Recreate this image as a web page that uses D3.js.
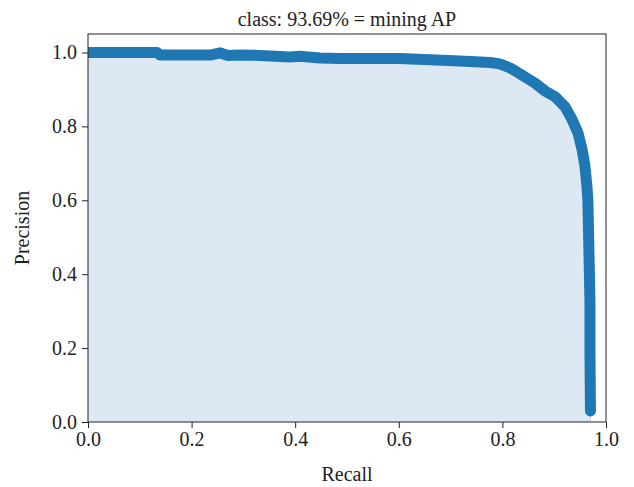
<!DOCTYPE html>
<html>
<head>
<meta charset="utf-8">
<script src="https://cdn.jsdelivr.net/npm/d3@7"></script>
<style>
  html, body { margin: 0; padding: 0; background: #fff; }
  svg text { font-family: "Liberation Serif", "DejaVu Serif", serif; fill: #222; }
</style>
</head>
<body>
<svg id="chart" width="634" height="487"></svg>
<script>
// Precision-recall curve for the "mining" class
const chartTitle = "class: 93.69% = mining AP";
const recall = [0.000, 0.133, 0.139, 0.236, 0.255, 0.270, 0.293, 0.332, 0.390, 0.409, 0.448, 0.486,
  0.602, 0.660, 0.718, 0.776, 0.795, 0.815, 0.834, 0.863, 0.882, 0.902, 0.921, 0.934, 0.946,
  0.954, 0.959, 0.963, 0.965, 0.967, 0.969, 0.969, 0.970];
const precision = [1.000, 1.000, 0.993, 0.993, 0.999, 0.992, 0.993, 0.992, 0.988, 0.990, 0.985, 0.984,
  0.984, 0.980, 0.977, 0.973, 0.969, 0.958, 0.942, 0.917, 0.896, 0.880, 0.853, 0.820, 0.782,
  0.736, 0.696, 0.641, 0.601, 0.465, 0.330, 0.195, 0.030];
const xTicks = [0, 0.2, 0.4, 0.6, 0.8, 1.0];
const yTicks = [0, 0.2, 0.4, 0.6, 0.8, 1.0];

const data = recall.map((r, i) => ({ r, p: precision[i] }));

const svg = d3.select("#chart");
const margin = { left: 88, right: 28, top: 34, bottom: 65 };
const W = 634, H = 487;

const x = d3.scaleLinear().domain([0, 1]).range([margin.left, W - margin.right]);
const y = d3.scaleLinear().domain([0, 1.05]).range([H - margin.bottom, margin.top]);

svg.append("defs").append("clipPath").attr("id", "plotClip")
  .append("rect")
  .attr("x", x(0)).attr("y", y(1.05))
  .attr("width", x(1) - x(0)).attr("height", y(0) - y(1.05));

const plot = svg.append("g").attr("clip-path", "url(#plotClip)");

// shaded area under the curve
plot.append("path")
  .datum(data)
  .attr("fill", "#dce8f4")
  .attr("d", d3.area().x(d => x(d.r)).y0(y(0)).y1(d => y(d.p)));

// faint drop to zero at the end of the curve
const last = data[data.length - 1];
plot.append("line")
  .attr("x1", x(last.r)).attr("x2", x(last.r))
  .attr("y1", y(last.p)).attr("y2", y(0))
  .attr("stroke", "#f2c4c4").attr("stroke-width", 1);

// thick curve
plot.append("path")
  .datum(data)
  .attr("fill", "none")
  .attr("stroke", "#1f77b4")
  .attr("stroke-width", 11)
  .attr("stroke-linejoin", "round")
  .attr("stroke-linecap", "round")
  .attr("d", d3.line().x(d => x(d.r)).y(d => y(d.p)));

// frame
svg.append("rect")
  .attr("x", x(0)).attr("y", y(1.05))
  .attr("width", x(1) - x(0)).attr("height", y(0) - y(1.05))
  .attr("fill", "none").attr("stroke", "#222").attr("stroke-width", 1);

const fmt = d3.format(".1f");
const xAxis = svg.append("g")
  .attr("transform", `translate(0,${y(0)})`)
  .call(d3.axisBottom(x).tickValues(xTicks).tickFormat(fmt).tickSize(6).tickPadding(4));
const yAxis = svg.append("g")
  .attr("transform", `translate(${x(0)},0)`)
  .call(d3.axisLeft(y).tickValues(yTicks).tickFormat(fmt).tickSize(6).tickPadding(5));
[xAxis, yAxis].forEach(g => {
  g.select(".domain").remove();
  g.selectAll(".tick line").attr("stroke", "#222");
  g.selectAll(".tick text").style("font-size", "20px").attr("fill", "#222")
    .style("font-family", "'Liberation Serif', serif");
});

svg.append("text")
  .attr("x", (x(0) + x(1)) / 2).attr("y", 26)
  .attr("text-anchor", "middle").style("font-size", "20px")
  .text(chartTitle);

svg.append("text")
  .attr("x", (x(0) + x(1)) / 2).attr("y", 481)
  .attr("text-anchor", "middle").style("font-size", "20px")
  .text("Recall");

svg.append("text")
  .attr("transform", `translate(29,${(y(0) + y(1.05)) / 2}) rotate(-90)`)
  .attr("text-anchor", "middle").style("font-size", "20px")
  .text("Precision");
</script>
</body>
</html>
